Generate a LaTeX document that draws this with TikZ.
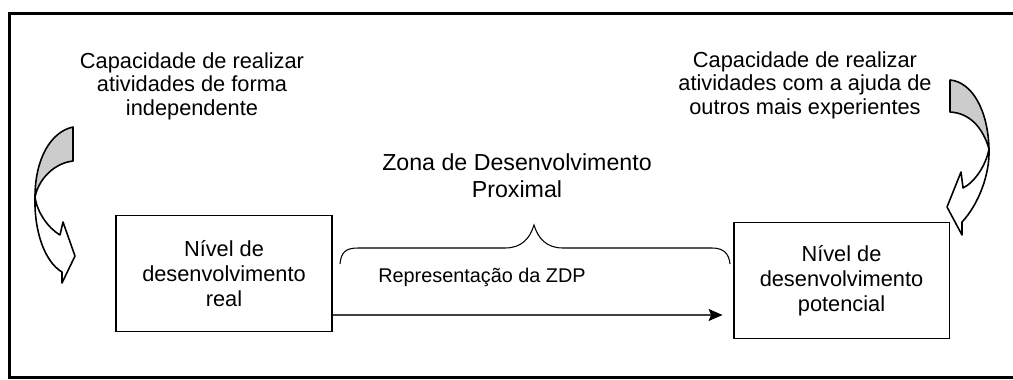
\documentclass[tikz,border=0pt]{standalone}
\usepackage{fontspec}
\setmainfont{Liberation Sans}
\usetikzlibrary{arrows.meta}

\begin{document}
\begin{tikzpicture}[x=0.02cm,y=-0.02cm]
	\tikzstyle{every node}+=[inner sep=0pt, align=center, font=\fontsize{12.4}{13.4}\selectfont]
	\tikzstyle{nivel}=[draw=black, line width=1.1pt, minimum width=4.32cm, minimum height=2.32cm, font=\fontsize{12.4}{14.2}\selectfont]
	\tikzstyle{torcida}=[draw=black, line width=0.9pt, line join=round]
	\useasboundingbox (0,0) rectangle (1013,379);
	\draw [black, line width=1.7pt] (9.5,13.5) rectangle (1030,377.5);
	\node (capA) at (192,86) {Capacidade de realizar\\atividades de forma\\independente};
	\node (capB) at (805,85) {Capacidade de realizar\\atividades com a ajuda de\\outros mais experientes};
	\node [nivel] (real) at (224,273.5) {Nível de\\desenvolvimento\\real};
	\node [nivel] (potencial) at (841.5,280.5) {Nível de\\desenvolvimento\\potencial};
	\node [font=\fontsize{13.2}{15.3}\selectfont] (zona) at (517,176) {Zona de Desenvolvimento\\Proximal};
	\node [anchor=base, font=\fontsize{11.3}{12}\selectfont] (repr) at (482,282) {Representação da ZDP};
	\coordinate (zdpA) at (real.east |- 0,315);
	\draw [black!75, line width=0.6pt, -{Stealth[length=2.8mm, width=2.4mm, inset=0.5mm, black]}, shorten >=0.2cm] (zdpA) -- (zdpA -| potencial.west);
	\coordinate (chA) at (340,264);
	\coordinate (chB) at (534,225);
	\coordinate (chC) at (730,264);
	\draw [black, line width=0.6pt] (chA) .. controls (341,252) and (346,248) .. (358,248) -- (505,248) .. controls (522,248) and (530,238) .. (chB) .. controls (538,238) and (546,248) .. (563,248) -- (712,248) .. controls (724,248) and (729,254) .. (chC);
	\filldraw [torcida, fill=black!20] (73,127) .. controls (50,132) and (35,160) .. (35,197) .. controls (39,178) and (55,163) .. (73,161) -- cycle;
	\filldraw [torcida, fill=white] (35,197) .. controls (37,212) and (48,228) .. (60,235) -- (63,222) -- (75,256) -- (62,283) -- (62,272) .. controls (45,262) and (34,232) .. cycle;
	\filldraw [torcida, fill=black!20] (950,80) .. controls (972,82) and (988,110) .. (989,149) .. controls (983,128) and (970,113) .. (950,112) -- cycle;
	\filldraw [torcida, fill=white] (989,149) .. controls (986,165) and (975,182) .. (963,188) -- (961,172) -- (947,207) -- (962,235) -- (962,222) .. controls (978,205) and (990,175) .. cycle;
\end{tikzpicture}
\end{document}
